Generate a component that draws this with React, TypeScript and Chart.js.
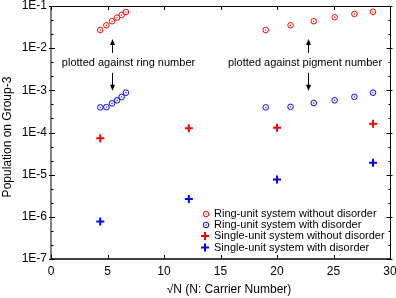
import React, { useEffect, useRef } from 'react';
import { Chart, registerables } from 'chart.js';

Chart.register(...registerables);

// ---- data ----
const ringSqrtN = [4.36, 4.9, 5.4, 5.85, 6.25, 6.63];
const pigmentSqrtN = [19.0, 21.2, 23.25, 25.1, 26.85, 28.5];
const singleSqrtN = [4.36, 12.2, 20.0, 28.5];

const ringNoDisorderByRing = [0.027, 0.035, 0.0435, 0.053, 0.061, 0.072];
const ringNoDisorderByPigment = [0.027, 0.035, 0.0435, 0.054, 0.065, 0.073];
const ringDisorderByRing = [3.94e-4, 4.0e-4, 4.9e-4, 5.8e-4, 7.0e-4, 8.8e-4];
const ringDisorderByPigment = [3.94e-4, 4.06e-4, 5.0e-4, 5.8e-4, 7.0e-4, 8.8e-4];
const singleNoDisorder = [7.3e-5, 1.26e-4, 1.29e-4, 1.62e-4];
const singleDisorder = [7.8e-7, 2.64e-6, 7.7e-6, 1.91e-5];

const xTicks = [0, 5, 10, 15, 20, 25, 30];
const yTickExponents = [-7, -6, -5, -4, -3, -2, -1];

const seriesLabels = [
  'Ring-unit system without disorder',
  'Ring-unit system with disorder',
  'Single-unit system without disorder',
  'Single-unit system with disorder',
];

const xTitle = '\u221AN (N: Carrier Number)';
const yTitle = 'Population on Group-3';
const noteRing = 'plotted against ring number';
const notePigment = 'plotted against pigment number';

const FONT = '"Liberation Sans", Arial, sans-serif';
const RED = '#ff0000';
const BLUE = '#0000ff';
const COLORS = [RED, BLUE, RED, BLUE];

function pts(xs: number[], ys: number[]) {
  return xs.map((x, i) => ({ x, y: ys[i] }));
}

function circleDot(ctx: CanvasRenderingContext2D, x: number, y: number, color: string) {
  ctx.strokeStyle = color;
  ctx.fillStyle = color;
  ctx.lineWidth = 1;
  ctx.beginPath();
  ctx.arc(x, y, 2.8, 0, Math.PI * 2);
  ctx.stroke();
  ctx.beginPath();
  ctx.arc(x, y, 0.7, 0, Math.PI * 2);
  ctx.fill();
}

function arrow(ctx: CanvasRenderingContext2D, x: number, y0: number, y1: number) {
  const dir = y1 > y0 ? 1 : -1;
  ctx.beginPath();
  ctx.moveTo(x, y0);
  ctx.lineTo(x, y1 - dir * 4);
  ctx.stroke();
  ctx.beginPath();
  ctx.moveTo(x, y1);
  ctx.lineTo(x - 2.5, y1 - dir * 6);
  ctx.lineTo(x + 2.5, y1 - dir * 6);
  ctx.closePath();
  ctx.fill();
}

export default function App() {
  const ref = useRef<HTMLCanvasElement | null>(null);

  useEffect(() => {
    document.body.style.margin = '0';

    const dots = {
      id: 'dots',
      afterDatasetsDraw(chart: any) {
        const ctx = chart.ctx;
        ctx.save();
        [0, 1].forEach((di) => {
          const meta = chart.getDatasetMeta(di);
          meta.data.forEach((p: any) => {
            ctx.fillStyle = COLORS[di];
            ctx.beginPath();
            ctx.arc(p.x, p.y, 0.7, 0, Math.PI * 2);
            ctx.fill();
          });
        });
        ctx.restore();
      },
    };

    const decorations = {
      id: 'decorations',
      afterDraw(chart: any) {
        const { ctx, chartArea } = chart;
        const { left, right, top, bottom } = chartArea;
        const xs = chart.scales.x;
        const ys = chart.scales.y;
        ctx.save();

        // frame
        ctx.strokeStyle = '#000';
        ctx.lineWidth = 1;
        ctx.beginPath();
        ctx.moveTo(left, top + 0.5);
        ctx.lineTo(right + 0.5, top + 0.5);
        ctx.lineTo(right + 0.5, bottom);
        ctx.stroke();
        ctx.lineWidth = 1.5;
        ctx.beginPath();
        ctx.moveTo(left, bottom);
        ctx.lineTo(right + 1, bottom);
        ctx.stroke();
        ctx.strokeStyle = '#808080';
        ctx.lineWidth = 2;
        ctx.beginPath();
        ctx.moveTo(left, top);
        ctx.lineTo(left, bottom + 0.5);
        ctx.stroke();

        // x ticks
        ctx.strokeStyle = '#000';
        ctx.lineWidth = 1;
        xTicks.forEach((v) => {
          const px = Math.round(xs.getPixelForValue(v)) + 0.5;
          ctx.beginPath();
          ctx.moveTo(px, bottom);
          ctx.lineTo(px, bottom - 4);
          ctx.moveTo(px, top);
          ctx.lineTo(px, top + 4);
          ctx.stroke();
        });
        // y ticks
        yTickExponents.forEach((e) => {
          const py = Math.round(ys.getPixelForValue(Math.pow(10, e))) + 0.5;
          ctx.beginPath();
          ctx.moveTo(left - 2, py);
          ctx.lineTo(left + 4, py);
          ctx.moveTo(right - 3.5, py);
          ctx.lineTo(right + 2.5, py);
          ctx.stroke();
          if (e < -1) {
            [1 / 3, 2 / 3].forEach((f) => {
              const pm = Math.round(ys.getPixelForValue(Math.pow(10, e + f))) + 0.5;
              ctx.beginPath();
              ctx.moveTo(left, pm);
              ctx.lineTo(left + 2.5, pm);
              ctx.moveTo(right - 1.5, pm);
              ctx.lineTo(right + 0.5, pm);
              ctx.stroke();
            });
          }
        });

        // axis titles
        ctx.fillStyle = '#000';
        ctx.font = `12px ${FONT}`;
        ctx.textAlign = 'center';
        ctx.textBaseline = 'middle';
        ctx.fillText(xTitle, 229, 290);
        ctx.save();
        ctx.translate(8, 137);
        ctx.rotate(-Math.PI / 2);
        ctx.fillText(yTitle, 0, 0);
        ctx.restore();

        // annotations
        ctx.font = `11px ${FONT}`;
        const yNote = ys.getPixelForValue(0.00447);
        ctx.fillText(noteRing, xs.getPixelForValue(6.86), yNote);
        ctx.fillText(notePigment, xs.getPixelForValue(22.48), yNote);
        ctx.fillStyle = '#000';
        ctx.lineWidth = 1;
        [5.42, 22.7].forEach((xv) => {
          const ax = Math.round(xs.getPixelForValue(xv)) + 0.5;
          arrow(ctx, ax, ys.getPixelForValue(0.0077), ys.getPixelForValue(0.0166));
          arrow(ctx, ax, ys.getPixelForValue(0.0026), ys.getPixelForValue(9.8e-4));
        });

        // legend
        const rowY = [214, 225, 236, 247.5];
        ctx.textAlign = 'left';
        ctx.font = `11px ${FONT}`;
        seriesLabels.forEach((lab, i) => {
          const y = rowY[i];
          if (i < 2) {
            circleDot(ctx, 206, y, COLORS[i]);
          } else {
            ctx.strokeStyle = COLORS[i];
            ctx.lineWidth = 2;
            ctx.beginPath();
            ctx.moveTo(201, y);
            ctx.lineTo(209, y);
            ctx.moveTo(205, y - 4);
            ctx.lineTo(205, y + 4);
            ctx.stroke();
          }
          ctx.fillStyle = '#000';
          ctx.fillText(lab, 214, y);
        });

        ctx.restore();
      },
    };

    const chart = new Chart(ref.current!, {
      type: 'scatter',
      data: {
        datasets: [
          {
            label: seriesLabels[0],
            data: [...pts(ringSqrtN, ringNoDisorderByRing), ...pts(pigmentSqrtN, ringNoDisorderByPigment)],
            pointStyle: 'circle',
            pointRadius: 2.8,
            borderWidth: 1,
            borderColor: RED,
            backgroundColor: 'rgba(0,0,0,0)',
          },
          {
            label: seriesLabels[1],
            data: [...pts(ringSqrtN, ringDisorderByRing), ...pts(pigmentSqrtN, ringDisorderByPigment)],
            pointStyle: 'circle',
            pointRadius: 2.8,
            borderWidth: 1,
            borderColor: BLUE,
            backgroundColor: 'rgba(0,0,0,0)',
          },
          {
            label: seriesLabels[2],
            data: pts(singleSqrtN, singleNoDisorder),
            pointStyle: 'cross',
            pointRadius: 4,
            borderWidth: 2,
            borderColor: RED,
            backgroundColor: RED,
          },
          {
            label: seriesLabels[3],
            data: pts(singleSqrtN, singleDisorder),
            pointStyle: 'cross',
            pointRadius: 4,
            borderWidth: 2,
            borderColor: BLUE,
            backgroundColor: BLUE,
          },
        ] as any,
      },
      options: {
        animation: false,
        responsive: false,
        devicePixelRatio: 1,
        layout: { padding: { top: 5, right: 6, left: 0, bottom: 0 } },
        plugins: { legend: { display: false }, tooltip: { enabled: false } },
        scales: {
          x: {
            type: 'linear',
            min: 0,
            max: 30,
            grid: { display: false, drawTicks: false },
            border: { display: false },
            ticks: {
              font: { size: 12, family: FONT },
              color: '#000',
              padding: 5,
              maxRotation: 0,
            },
            afterBuildTicks: (s: any) => {
              s.ticks = xTicks.map((v) => ({ value: v }));
            },
            afterFit: (s: any) => {
              s.height = 39;
              s.paddingLeft = 0;
              s.paddingRight = 0;
            },
          },
          y: {
            type: 'logarithmic',
            min: 1e-7,
            max: 1e-1,
            grid: { display: false, drawTicks: false },
            border: { display: false },
            ticks: {
              font: { size: 12, family: FONT },
              color: '#000',
              padding: 4,
              callback: (v: any) => '1E' + Math.round(Math.log10(Number(v))),
            },
            afterBuildTicks: (s: any) => {
              s.ticks = yTickExponents.map((e) => ({ value: Math.pow(10, e) }));
            },
            afterFit: (s: any) => {
              s.width = 51;
              s.paddingTop = 0;
              s.paddingBottom = 0;
            },
          },
        },
      },
      plugins: [dots, decorations],
    });
    return () => chart.destroy();
  }, []);

  return (
    <div style={{ width: 396, height: 298, background: '#fff' }}>
      <canvas ref={ref} width={396} height={298} style={{ display: 'block' }} />
    </div>
  );
}
